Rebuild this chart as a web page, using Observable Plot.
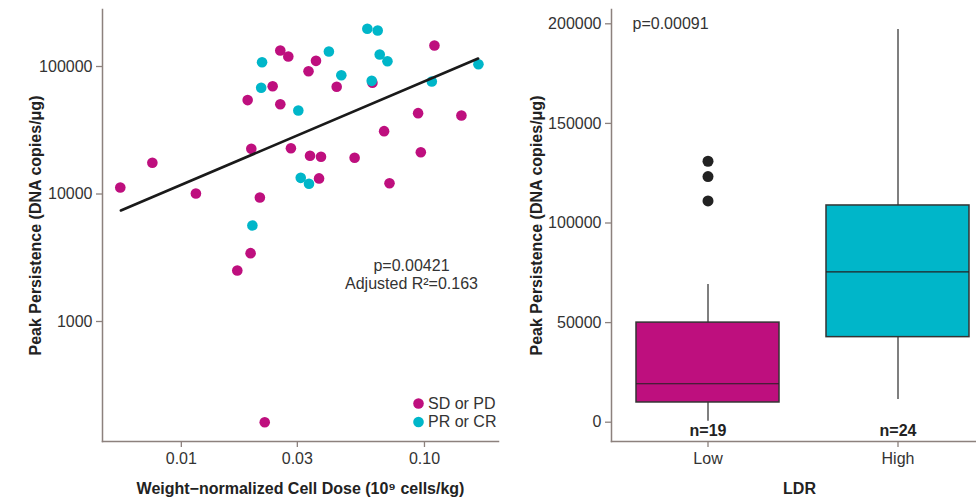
<!DOCTYPE html>
<html>
<head>
<meta charset="utf-8">
<script src="https://cdn.jsdelivr.net/npm/d3@7"></script>
<script src="https://cdn.jsdelivr.net/npm/@observablehq/plot@0.6"></script>
<style>
  html, body { margin: 0; padding: 0; background: white; }
  #wrap { position: relative; width: 976px; height: 500px; overflow: hidden; }
  #left, #right { position: absolute; top: 0; }
  #left { left: 0; }
  #right { left: 510px; }
  #wrap svg { font-family: 'Liberation Sans', Arial, sans-serif; }
  #wrap svg text { font-size: 16px; }
</style>
</head>
<body>
<div id="wrap"><div id="left"></div><div id="right"></div></div>
<script>
// ---- Left panel data (scatter, log-log) ----
const sdpdDose = [0.00561, 0.0076, 0.01148, 0.01874, 0.0194, 0.02104, 0.02375, 0.02553, 0.02553, 0.02754, 0.02823, 0.03335, 0.03383, 0.0358, 0.03685, 0.03754, 0.04355, 0.05161, 0.06109, 0.06823, 0.07181, 0.09415, 0.0966, 0.1099, 0.1419, 0.01927, 0.01699, 0.02203];
const sdpdPeak = [11250, 17600, 10080, 54500, 22600, 9400, 70000, 133500, 50600, 119800, 22860, 91900, 19950, 110800, 13250, 19600, 69300, 19230, 74500, 31130, 12160, 43070, 21280, 146200, 41300, 3437, 2512, 162];
const prcrDose = [0.02148, 0.0213, 0.03028, 0.03098, 0.0335, 0.04045, 0.0455, 0.05821, 0.06422, 0.06546, 0.07043, 0.06068, 0.1072, 0.1667, 0.0196];
const prcrPeak = [108100, 68100, 45200, 13390, 12020, 131100, 85500, 197700, 191500, 124200, 110000, 77200, 76300, 104200, 5663];
const fitDose = [0.005641, 0.1662];
const fitPeak = [7423, 115500];
const responseGroups = ["SD or PD", "PR or CR"];
const xTicksLeft = [0.01, 0.03, 0.1];
const yTicksLeft = [1000, 10000, 100000];

// ---- Right panel data (box plot summaries) ----
const ldrGroups = ["Low", "High"];
const ldrN = [19, 24];
const boxQ1 = [9900, 42700];
const boxMedian = [19300, 75500];
const boxQ3 = [50000, 108800];
const whiskerLow = [500, 11400];
const whiskerHigh = [69100, 197100];
const lowOutliers = [131000, 123300, 111100];
const yTicksRight = [0, 50000, 100000, 150000, 200000];

const MAGENTA = "#BE0F7E";
const CYAN = "#00B6C9";
const AXIS = "#8c817d";
const TEXT = "#333333";
const FONT = "'Liberation Sans', Arial, sans-serif";

const sdpd = sdpdDose.map((d, i) => ({dose: d, peak: sdpdPeak[i]}));
const prcr = prcrDose.map((d, i) => ({dose: d, peak: prcrPeak[i]}));
const fit = fitDose.map((d, i) => ({dose: d, peak: fitPeak[i]}));
const legend = responseGroups.map((g, i) => ({label: g, color: i === 0 ? MAGENTA : CYAN, idx: i}));

const left = Plot.plot({
  width: 510, height: 500,
  marginLeft: 102, marginRight: 12, marginTop: 9, marginBottom: 59,
  style: {fontFamily: FONT, fontSize: "16px", color: TEXT, background: "white"},
  x: {type: "log", domain: [0.00474, 0.2016]},
  y: {type: "log", domain: [114.5, 280000]},
  marks: [
    Plot.frame({anchor: "left", stroke: AXIS, strokeWidth: 1.5}),
    Plot.frame({anchor: "bottom", stroke: AXIS, strokeWidth: 1.5}),
    Plot.axisX({ticks: xTicksLeft, tickFormat: d3.format(".2f"), tickSize: 6, tickPadding: 5, stroke: AXIS, fill: TEXT, strokeWidth: 1.3, fontSize: 16, label: null}),
    Plot.axisY({ticks: yTicksLeft, tickFormat: d3.format("d"), tickSize: 6, tickPadding: 4, stroke: AXIS, fill: TEXT, strokeWidth: 1.3, fontSize: 16, label: null}),
    Plot.dot(sdpd, {x: "dose", y: "peak", r: 5.3, fill: MAGENTA}),
    Plot.dot(prcr, {x: "dose", y: "peak", r: 5.3, fill: CYAN}),
    Plot.line(fit, {x: "dose", y: "peak", stroke: "#1a1a1a", strokeWidth: 2.6}),
    Plot.text(["p=0.00421"], {frameAnchor: "top-left", dx: 309, dy: 256, text: d => d, textAnchor: "middle", lineAnchor: "middle", fontSize: 16, fill: TEXT}),
    Plot.text(["Adjusted R²=0.163"], {frameAnchor: "top-left", dx: 309, dy: 274, text: d => d, textAnchor: "middle", lineAnchor: "middle", fontSize: 16, fill: TEXT}),
    Plot.dot(legend.slice(0, 1), {frameAnchor: "bottom-right", dx: -80, dy: -38, r: 5.3, fill: "color"}),
    Plot.dot(legend.slice(1, 2), {frameAnchor: "bottom-right", dx: -80, dy: -19.5, r: 5.3, fill: "color"}),
    Plot.text(legend.slice(0, 1), {frameAnchor: "bottom-right", dx: -70.5, dy: -38, text: "label", textAnchor: "start", lineAnchor: "middle", fontSize: 16, fill: TEXT}),
    Plot.text(legend.slice(1, 2), {frameAnchor: "bottom-right", dx: -70.5, dy: -19.5, text: "label", textAnchor: "start", lineAnchor: "middle", fontSize: 16, fill: TEXT}),
    Plot.text(["Weight−normalized Cell Dose (10⁹ cells/kg)"], {frameAnchor: "bottom", dy: 47, text: d => d, textAnchor: "middle", lineAnchor: "middle", fontWeight: "bold", fontSize: 16, fill: "#222"}),
    Plot.text(["Peak Persistence (DNA copies/μg)"], {frameAnchor: "left", dx: -67, rotate: -90, text: d => d, textAnchor: "middle", lineAnchor: "middle", fontWeight: "bold", fontSize: 16, fill: "#222"})
  ]
});
document.getElementById("left").appendChild(left);

const boxes = ldrGroups.map((g, i) => ({
  group: g, n: ldrN[i], q1: boxQ1[i], median: boxMedian[i], q3: boxQ3[i],
  lo: whiskerLow[i], hi: whiskerHigh[i], color: i === 0 ? MAGENTA : CYAN
}));
const outliers = lowOutliers.map(v => ({group: ldrGroups[0], value: v}));

const right = Plot.plot({
  width: 484, height: 500,
  marginLeft: 101, marginRight: 0, marginTop: 9, marginBottom: 59,
  style: {fontFamily: FONT, fontSize: "16px", color: TEXT, background: "white", maxWidth: "none"},
  x: {type: "band", domain: ldrGroups, paddingInner: 0.2465, paddingOuter: 0.127},
  y: {domain: [-9689, 207180]},
  marks: [
    Plot.frame({anchor: "left", stroke: AXIS, strokeWidth: 1.5}),
    Plot.frame({anchor: "bottom", stroke: AXIS, strokeWidth: 1.5}),
    Plot.axisX({tickSize: 6, tickPadding: 5, stroke: AXIS, fill: TEXT, strokeWidth: 1.3, fontSize: 16, label: null}),
    Plot.axisY({ticks: yTicksRight, tickFormat: d3.format("d"), tickSize: 6, tickPadding: 4, stroke: AXIS, fill: TEXT, strokeWidth: 1.3, fontSize: 16, label: null}),
    Plot.ruleX(boxes, {x: "group", y1: "lo", y2: "q1", stroke: "#555", strokeWidth: 1.5}),
    Plot.ruleX(boxes, {x: "group", y1: "q3", y2: "hi", stroke: "#555", strokeWidth: 1.5}),
    Plot.barY(boxes, {x: "group", y1: "q1", y2: "q3", fill: "color", stroke: "#333", strokeWidth: 1.5}),
    Plot.tickY(boxes, {x: "group", y: "median", stroke: "#222", strokeWidth: 1.2}),
    Plot.dot(outliers, {x: "group", y: "value", r: 5.5, fill: "#222"}),
    Plot.text(boxes, {x: "group", frameAnchor: "bottom", dy: -11, text: d => "n=" + d.n, lineAnchor: "middle", fontWeight: "bold", fontSize: 16, fill: "#222"}),
    Plot.text(["p=0.00091"], {frameAnchor: "top-left", dx: 21, dy: 14.3, text: d => d, textAnchor: "start", lineAnchor: "middle", fontSize: 16, fill: TEXT}),
    Plot.text(["LDR"], {frameAnchor: "bottom", dx: -3.5, dy: 47, text: d => d, textAnchor: "middle", lineAnchor: "middle", fontWeight: "bold", fontSize: 16, fill: "#222"}),
    Plot.text(["Peak Persistence (DNA copies/μg)"], {frameAnchor: "left", dx: -75, rotate: -90, text: d => d, textAnchor: "middle", lineAnchor: "middle", fontWeight: "bold", fontSize: 16, fill: "#222"})
  ]
});
document.getElementById("right").appendChild(right);
</script>
</body>
</html>
